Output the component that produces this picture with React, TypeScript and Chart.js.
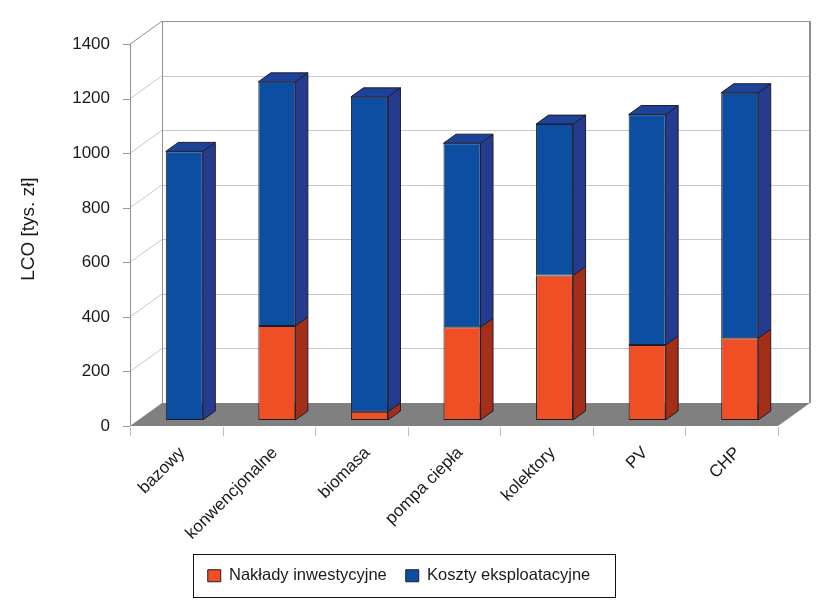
import { useEffect, useRef } from "react";
import { Chart, registerables } from "chart.js";

Chart.register(...registerables);

const categories = ["bazowy", "konwencjonalne", "biomasa", "pompa ciepła", "kolektory", "PV", "CHP"];
const investmentCosts = [0, 345, 30, 340, 530, 275, 300];
const operatingCosts = [985, 895, 1155, 675, 555, 845, 900];
const seriesNames = ["Nakłady inwestycyjne", "Koszty eksploatacyjne"];
const yAxisTicks = [0, 200, 400, 600, 800, 1000, 1200, 1400];
const yAxisTitle = "LCO [tys. zł]";

const FONT = "'Liberation Sans', Arial, Helvetica, sans-serif";

// face colours of the bar prisms
const ORANGE = { front: "#f04e24", side: "#a32f19", top: "#c33a1f" };
const BLUE = { front: "#0c4ea2", side: "#253b8d", top: "#1d4298" };
const FACES = [ORANGE, BLUE];
const EDGE = "#1d1d2b";

// depth offsets, measured from the plane that holds the bar fronts
const FLOOR_FRONT = { x: -8, y: 6 };
const WALL_BACK = { x: 24, y: -17 };
const BAR_DEPTH = { x: 12.5, y: -9 };

type Pt = [number, number];

function seg(ctx: CanvasRenderingContext2D, x1: number, y1: number, x2: number, y2: number) {
  ctx.beginPath();
  ctx.moveTo(x1, y1);
  ctx.lineTo(x2, y2);
  ctx.stroke();
}

function poly(ctx: CanvasRenderingContext2D, pts: Pt[], fill: string, stroke?: string) {
  ctx.beginPath();
  pts.forEach(([px, py], i) => (i ? ctx.lineTo(px, py) : ctx.moveTo(px, py)));
  ctx.closePath();
  ctx.fillStyle = fill;
  ctx.fill();
  if (stroke) {
    ctx.strokeStyle = stroke;
    ctx.stroke();
  }
}

const crisp = (v: number) => Math.round(v) + 0.5;

// walls, floor and grid of the box the bars stand in
const chartBox = {
  id: "chartBox",
  beforeDatasetsDraw(chart: any) {
    const { ctx, chartArea: ca, scales } = chart;
    const xs = scales.x;
    const ys = scales.y;
    const yMax = yAxisTicks[yAxisTicks.length - 1];
    const y0 = ys.getPixelForValue(0);
    const yT = ys.getPixelForValue(yMax);
    const l = ca.left;
    const r = ca.right;
    const F = FLOOR_FRONT;
    const B = WALL_BACK;

    ctx.save();
    ctx.lineWidth = 1;

    // grid lines on back and side wall
    ctx.strokeStyle = "#c8c8c8";
    yAxisTicks.forEach((v) => {
      if (v === 0 || v === yMax) return;
      const py = ys.getPixelForValue(v);
      seg(ctx, l + B.x, crisp(py + B.y), r + B.x, crisp(py + B.y));
      seg(ctx, l + F.x, py + F.y, l + B.x, py + B.y);
    });

    // tick marks on the value axis
    ctx.strokeStyle = "#9a9a9a";
    yAxisTicks.forEach((v) => {
      const py = crisp(ys.getPixelForValue(v) + F.y);
      seg(ctx, l + F.x - 7, py, l + F.x, py);
    });

    // floor
    poly(
      ctx,
      [
        [l + F.x, y0 + F.y],
        [r + F.x, y0 + F.y],
        [r + B.x, y0 + B.y],
        [l + B.x, y0 + B.y],
      ],
      "#808080"
    );

    // wall edges
    ctx.strokeStyle = "#8e8e8e";
    seg(ctx, crisp(l + F.x), y0 + F.y, crisp(l + F.x), yT + F.y);
    seg(ctx, l + F.x, yT + F.y, l + B.x, yT + B.y);
    seg(ctx, l + B.x, crisp(yT + B.y), r + B.x, crisp(yT + B.y));
    seg(ctx, crisp(l + B.x), yT + B.y, crisp(l + B.x), y0 + B.y);
    ctx.lineWidth = 2;
    seg(ctx, r + B.x, yT + B.y, r + B.x, y0 + B.y);

    // category separators under the floor edge
    ctx.lineWidth = 1;
    ctx.strokeStyle = "#c0c0c0";
    const n = categories.length;
    const bounds: number[] = [l];
    for (let i = 1; i < n; i++) {
      bounds.push((xs.getPixelForValue(i - 1) + xs.getPixelForValue(i)) / 2);
    }
    bounds.push(r);
    bounds.forEach((bx) => {
      const px = crisp(bx + F.x);
      seg(ctx, px, y0 + F.y + 1, px, y0 + F.y + 10);
    });
    ctx.restore();
  },
  afterDatasetsDraw(chart: any) {
    const { ctx } = chart;
    const D = BAR_DEPTH;
    ctx.save();
    ctx.lineWidth = 1;
    chart.data.datasets.forEach((ds: any, di: number) => {
      const meta = chart.getDatasetMeta(di);
      meta.data.forEach((bar: any, i: number) => {
        const { x, y, base, width } = bar.getProps(["x", "y", "base", "width"], true);
        if (Math.abs(base - y) < 0.5) return;
        const left = x - width / 2;
        const right = x + width / 2;
        const top = Math.min(y, base);
        const bottom = Math.max(y, base);
        poly(
          ctx,
          [
            [right, top],
            [right + D.x, top + D.y],
            [right + D.x, bottom + D.y],
            [right, bottom],
          ],
          FACES[di].side,
          EDGE
        );
        const isTopmost = chart.data.datasets
          .slice(di + 1)
          .every((other: any) => !other.data[i]);
        if (isTopmost) {
          poly(
            ctx,
            [
              [left, top],
              [left + D.x, top + D.y],
              [right + D.x, top + D.y],
              [right, top],
            ],
            FACES[di].top,
            EDGE
          );
        }
      });
    });
    ctx.restore();
  },
};

// thin frame around the legend entries
const legendFrame = {
  id: "legendFrame",
  afterDraw(chart: any) {
    const lg = chart.legend;
    if (!lg || !lg.legendHitBoxes || !lg.legendHitBoxes.length) return;
    const hb = lg.legendHitBoxes;
    const first = hb[0];
    const last = hb[hb.length - 1];
    const x1 = Math.round(first.left - 15) + 0.5;
    const x2 = Math.round(last.left + last.width + 25) + 0.5;
    const cy = first.top + first.height / 2;
    const y1 = Math.round(cy - 22) + 0.5;
    const y2 = Math.round(cy + 21) + 0.5;
    const { ctx } = chart;
    ctx.save();
    ctx.strokeStyle = "#111111";
    ctx.lineWidth = 1;
    ctx.strokeRect(x1, y1, x2 - x1, y2 - y1);
    ctx.restore();
  },
};

export default function App() {
  const canvasRef = useRef<HTMLCanvasElement | null>(null);

  useEffect(() => {
    const canvas = canvasRef.current;
    if (!canvas) return;
    const chart = new Chart(canvas, {
      type: "bar",
      data: {
        labels: categories,
        datasets: [
          {
            label: seriesNames[0],
            data: investmentCosts,
            backgroundColor: ORANGE.front,
            borderColor: EDGE,
            borderWidth: 1,
            borderSkipped: false,
            barPercentage: 0.4,
            categoryPercentage: 1,
          },
          {
            label: seriesNames[1],
            data: operatingCosts,
            backgroundColor: BLUE.front,
            borderColor: EDGE,
            borderWidth: 1,
            borderSkipped: false,
            barPercentage: 0.4,
            categoryPercentage: 1,
          },
        ],
      },
      options: {
        responsive: false,
        animation: false,
        events: [],
        layout: { padding: { left: 12, right: 45, top: 38, bottom: 18 } },
        plugins: {
          tooltip: { enabled: false },
          legend: {
            position: "bottom",
            maxHeight: 50,
            labels: {
              font: { family: FONT, size: 16.5 },
              color: "#1a1a1a",
              boxWidth: 13,
              boxHeight: 12,
              padding: 19,
            },
          },
        },
        scales: {
          x: {
            stacked: true,
            grid: { display: false, drawTicks: false },
            border: { display: false },
            ticks: {
              autoSkip: false,
              minRotation: 45,
              maxRotation: 45,
              padding: 23,
              labelOffset: -2,
              font: { family: FONT, size: 17 },
              color: "#1a1a1a",
            },
            afterFit: (s: any) => {
              s.height = 128.5;
            },
          },
          y: {
            stacked: true,
            min: yAxisTicks[0],
            max: yAxisTicks[yAxisTicks.length - 1],
            grid: { display: false, drawTicks: false },
            border: { display: false },
            ticks: {
              stepSize: yAxisTicks[1] - yAxisTicks[0],
              padding: 28,
              labelOffset: 6,
              font: { family: FONT, size: 17 },
              color: "#1a1a1a",
              callback: (v: any) => String(v),
            },
            title: {
              display: true,
              text: yAxisTitle,
              color: "#1a1a1a",
              font: { family: FONT, size: 19 },
              padding: { top: 5, bottom: 0 },
            },
            afterFit: (s: any) => {
              s.width = 126;
            },
          },
        },
      },
      plugins: [chartBox, legendFrame],
    });
    return () => chart.destroy();
  }, []);

  return (
    <div style={{ position: "absolute", left: 0, top: 0, width: 831, height: 612, background: "#ffffff" }}>
      <canvas ref={canvasRef} width={831} height={612} style={{ display: "block" }} />
    </div>
  );
}
